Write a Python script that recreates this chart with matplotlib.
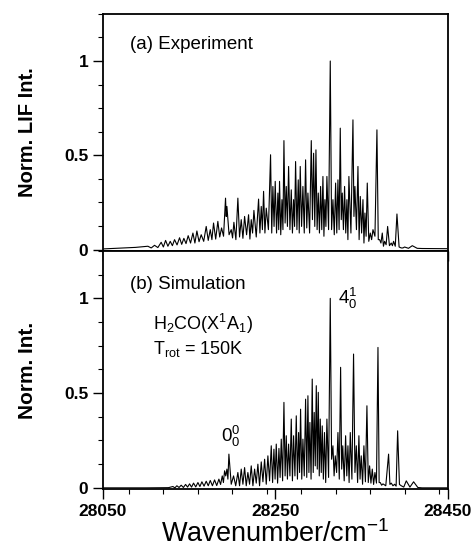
import numpy as np
import matplotlib
matplotlib.use("Agg")
import matplotlib.pyplot as plt
from matplotlib.ticker import MultipleLocator, FixedLocator

plt.rcParams['font.family'] = ['Liberation Sans', 'DejaVu Sans']
plt.rcParams['mathtext.fontset'] = 'custom'
plt.rcParams['mathtext.rm'] = 'Liberation Sans'
plt.rcParams['mathtext.it'] = 'Liberation Sans'
plt.rcParams['mathtext.bf'] = 'Liberation Sans:bold'

# (a) experiment: peak positions (cm-1), peak heights, valley after each peak
exp_start_x = [28051, 28070, 28088]
exp_start_y = [0.004, 0.008, 0.012]
exp_peak_x = [28102.2, 28109.9, 28117.6, 28122.7, 28128.1, 28133.1, 28138.9, 28143.9,
              28148.9, 28154.4, 28159.0, 28164.0, 28169.8, 28174.5, 28178.3, 28183.3,
              28187.6, 28192.2, 28193.8, 28198.8, 28201.9, 28206.5, 28210.4, 28214.3,
              28218.9, 28222.0, 28225.1, 28230.5, 28233.6, 28236.3, 28239.4, 28244.4,
              28247.1, 28249.8, 28252.9, 28254.8, 28257.6, 28259.9, 28262.6, 28265.3,
              28268.4, 28271.1, 28273.4, 28276.5, 28278.8, 28281.9, 28285.0, 28287.7,
              28291.6, 28294.3, 28297.0, 28299.7, 28302.4, 28305.1, 28307.4, 28309.7,
              28313.6, 28316.7, 28319.8, 28322.5, 28325.2, 28327.5, 28330.2, 28332.9,
              28335.2, 28339.9, 28342.2, 28345.7, 28348.4, 28351.5, 28353.8, 28356.5,
              28360.0, 28363.1, 28367.7, 28370.8, 28373.9, 28376.6, 28380.1, 28384.3,
              28387.0, 28390.9, 28395.9, 28399.8, 28408.7]
exp_peak_y = [0.018, 0.023, 0.039, 0.049, 0.044, 0.053, 0.063, 0.060,
              0.074, 0.088, 0.099, 0.079, 0.123, 0.106, 0.141, 0.150,
              0.115, 0.273, 0.229, 0.106, 0.145, 0.273, 0.159, 0.176,
              0.185, 0.159, 0.208, 0.268, 0.229, 0.309, 0.220, 0.503,
              0.335, 0.362, 0.300, 0.362, 0.265, 0.578, 0.335, 0.441,
              0.317, 0.265, 0.467, 0.370, 0.441, 0.335, 0.476, 0.300,
              0.578, 0.511, 0.529, 0.300, 0.335, 0.388, 0.265, 0.388,
              1.000, 0.265, 0.353, 0.370, 0.644, 0.300, 0.335, 0.265,
              0.388, 0.688, 0.335, 0.441, 0.282, 0.265, 0.194, 0.353,
              0.088, 0.106, 0.635, 0.053, 0.088, 0.044, 0.123, 0.035,
              0.044, 0.189, 0.009, 0.014, 0.021]
exp_valley_y = [0.009, 0.011, 0.014, 0.018, 0.021, 0.025, 0.028, 0.032,
                0.035, 0.035, 0.042, 0.044, 0.049, 0.053, 0.056, 0.067,
                0.071, 0.176, 0.079, 0.062, 0.053, 0.067, 0.060, 0.079,
                0.056, 0.088, 0.067, 0.088, 0.106, 0.088, 0.106, 0.088,
                0.123, 0.088, 0.106, 0.079, 0.106, 0.141, 0.123, 0.106,
                0.088, 0.123, 0.106, 0.088, 0.123, 0.088, 0.115, 0.088,
                0.159, 0.123, 0.106, 0.088, 0.106, 0.071, 0.123, 0.106,
                0.106, 0.079, 0.088, 0.106, 0.159, 0.106, 0.088, 0.053,
                0.088, 0.176, 0.106, 0.053, 0.088, 0.035, 0.071, 0.044,
                0.053, 0.071, 0.053, 0.035, 0.018, 0.026, 0.021, 0.021,
                0.018, 0.014, 0.009, 0.007, 0.007]
exp_end_x = [28420, 28449]
exp_end_y = [0.006, 0.005]

# (b) simulation
sim_start_x = [28051, 28100, 28126]
sim_start_y = [0.0, 0.0, 0.001]
sim_peak_x = [28131.2, 28135.8, 28140.8, 28145.9, 28150.5, 28155.1, 28160.2, 28164.8,
              28169.8, 28174.5, 28179.5, 28184.5, 28188.4, 28191.1, 28193.8, 28196.1,
              28201.5, 28206.5, 28210.4, 28214.3, 28218.1, 28222.0, 28225.9, 28229.7,
              28233.6, 28237.5, 28241.3, 28245.2, 28248.3, 28251.0, 28254.1, 28256.8,
              28259.9, 28262.6, 28265.3, 28268.4, 28271.1, 28274.2, 28276.9, 28279.2,
              28281.9, 28285.0, 28287.7, 28290.0, 28292.7, 28295.0, 28297.4, 28299.7,
              28302.0, 28304.3, 28306.9, 28309.7, 28313.6, 28316.7, 28319.4, 28322.5,
              28325.6, 28328.1, 28331.4, 28334.1, 28336.8, 28340.6, 28343.8, 28346.8,
              28349.5, 28352.6, 28356.1, 28359.2, 28362.3, 28365.4, 28368.9, 28371.6,
              28374.7, 28381.2, 28384.3, 28388.2, 28391.7, 28395.9, 28401.7, 28410.2]
sim_peak_y = [0.007, 0.011, 0.014, 0.018, 0.021, 0.025, 0.028, 0.032,
              0.035, 0.039, 0.042, 0.046, 0.063, 0.090, 0.099, 0.178,
              0.063, 0.081, 0.099, 0.107, 0.081, 0.116, 0.099, 0.125,
              0.137, 0.151, 0.169, 0.222, 0.204, 0.231, 0.208, 0.257,
              0.451, 0.275, 0.231, 0.363, 0.275, 0.380, 0.292, 0.415,
              0.257, 0.468, 0.486, 0.345, 0.574, 0.398, 0.539, 0.504,
              0.363, 0.327, 0.292, 0.363, 1.000, 0.222, 0.169, 0.292,
              0.636, 0.222, 0.275, 0.222, 0.292, 0.706, 0.222, 0.275,
              0.169, 0.222, 0.433, 0.116, 0.099, 0.081, 0.741, 0.028,
              0.021, 0.178, 0.025, 0.019, 0.301, 0.011, 0.037, 0.032]
sim_valley_y = [0.000, 0.002, 0.002, 0.004, 0.004, 0.005, 0.007, 0.009,
                0.011, 0.011, 0.012, 0.018, 0.028, 0.063, 0.046, 0.019,
                0.011, 0.011, 0.019, 0.011, 0.019, 0.011, 0.025, 0.011,
                0.032, 0.019, 0.037, 0.028, 0.046, 0.025, 0.055, 0.037,
                0.063, 0.046, 0.063, 0.037, 0.063, 0.046, 0.081, 0.046,
                0.063, 0.055, 0.081, 0.046, 0.081, 0.116, 0.099, 0.063,
                0.081, 0.046, 0.028, 0.055, 0.151, 0.063, 0.081, 0.046,
                0.099, 0.037, 0.063, 0.028, 0.046, 0.081, 0.028, 0.046,
                0.019, 0.032, 0.028, 0.025, 0.018, 0.025, 0.028, 0.014,
                0.011, 0.018, 0.011, 0.009, 0.018, 0.004, 0.004, 0.002]
sim_end_x = [28420, 28449]
sim_end_y = [0.0, 0.0]

xticks = [28050, 28250, 28450]


def trace(start_x, start_y, px, py, vy, end_x, end_y):
    # peak, then valley half way to the next peak
    xs = list(start_x)
    ys = list(start_y)
    nxt = list(px[1:]) + [end_x[0]]
    for x, y, v, xn in zip(px, py, vy, nxt):
        xs += [x, (x + xn) / 2]
        ys += [y, v]
    return xs + list(end_x), ys + list(end_y)


def style_axis(ax):
    ax.set_xlim(28050, 28450)
    ax.set_ylim(-0.007, 1.25)
    ax.xaxis.set_major_locator(FixedLocator(xticks))
    ax.xaxis.set_minor_locator(MultipleLocator(40))
    ax.yaxis.set_major_locator(FixedLocator([0, 0.5, 1]))
    ax.yaxis.set_minor_locator(MultipleLocator(0.125))
    ax.tick_params(which='major', direction='out', length=7, width=1.0,
                   labelsize=12.5)
    ax.tick_params(which='minor', direction='out', length=3.5, width=0.8)
    ax.set_yticklabels(['0', '0.5', '1'], fontweight='bold')
    for s in ax.spines.values():
        s.set_linewidth(1.3)


fig = plt.figure(figsize=(4.74, 5.54), dpi=100)
ax1 = fig.add_axes([0.217, 0.547, 0.728, 0.428])
ax2 = fig.add_axes([0.217, 0.117, 0.728, 0.430])

x1, y1 = trace(exp_start_x, exp_start_y, exp_peak_x, exp_peak_y, exp_valley_y,
               exp_end_x, exp_end_y)
x2, y2 = trace(sim_start_x, sim_start_y, sim_peak_x, sim_peak_y, sim_valley_y,
               sim_end_x, sim_end_y)
ax1.plot(x1, y1, color='black', lw=0.8)
ax2.plot(x2, y2, color='black', lw=0.8)

style_axis(ax1)
style_axis(ax2)
ax1.set_xticklabels([])
ax2.set_xticklabels([str(t) for t in xticks], fontweight='bold')

ax1.set_ylabel('Norm. LIF Int.', fontsize=14.5, fontweight='bold')
ax2.set_ylabel('Norm. Int.', fontsize=15, fontweight='bold')
ax2.set_xlabel('Wavenumber/cm$^{-1}$', fontsize=19.5, labelpad=1)
ax1.yaxis.set_label_coords(-0.19, 0.5)
ax2.yaxis.set_label_coords(-0.19, 0.5)

ax1.text(28081, 1.09, '(a) Experiment', fontsize=13.5, va='center')
ax2.text(28081, 1.075, '(b) Simulation', fontsize=13.5, va='center')
ax2.text(28108, 0.865, 'H$_2$CO(X$^1$A$_1$)', fontsize=13, va='center')
ax2.text(28108, 0.735, 'T$_{rot}$ = 150K', fontsize=13, va='center')
ax2.text(28322, 1.0, '4$^1_0$', fontsize=13.5, va='center')
ax2.text(28187, 0.27, '0$^0_0$', fontsize=13.5, va='center')

fig.savefig('out.png', dpi=100)
